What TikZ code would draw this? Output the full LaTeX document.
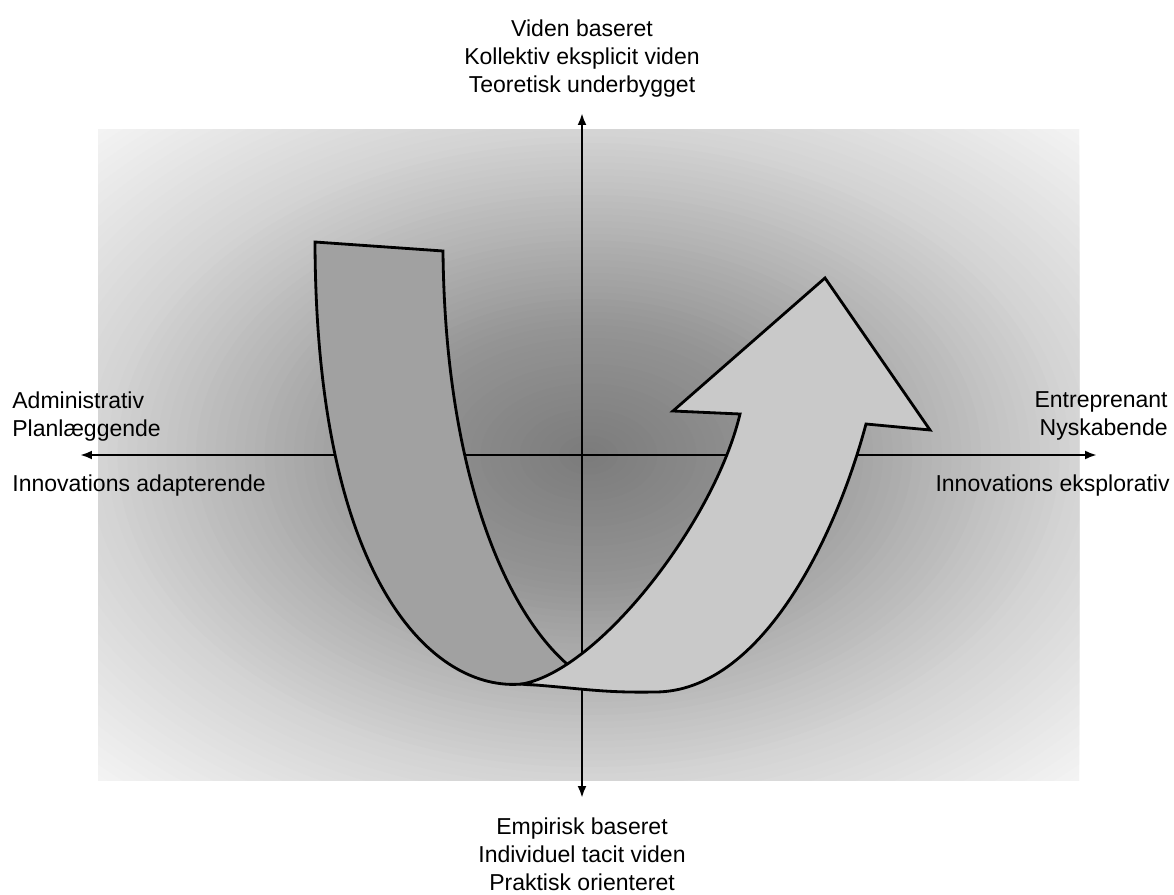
\documentclass[tikz,border=0pt]{standalone}
\usepackage{fontspec}
\setmainfont{Liberation Sans}
\usetikzlibrary{arrows.meta,positioning}
\definecolor{backband}{gray}{0.63}
\definecolor{frontband}{gray}{0.79}
\tikzset{
	axis/.style={line width=1.5pt,
		{Latex[length=0.24cm,width=0.18cm]}-{Latex[length=0.24cm,width=0.18cm]}},
	band/.style={draw, line width=1.6pt, line join=miter},
	pole/.style={font=\fontsize{13.1}{15.8}\selectfont, inner sep=0pt}
}

\begin{document}
\begin{tikzpicture}[x=0.02cm,y=-0.02cm]
	\useasboundingbox (0,0) rectangle (1174,895);
	% soft dark glow behind the axes
	\begin{scope}
		\clip (98,130) rectangle (1079,780);
		\fill[black!4] (98,130) rectangle (1079,780);
		\foreach \r in {72,71,...,1} {
			\pgfmathsetmacro\k{\r<=20 ? 52-0.5*\r : (\r<=50 ? 42-(\r-20)*25/30 : 17-(\r-50)*13/22)}
			\fill[black!\k] (588.5,455) ellipse ({\r*9.81} and {\r*6.5});
		}
	\end{scope}
	\coordinate (west) at (80,455);
	\coordinate (east) at (1097,455);
	\coordinate (north) at (582,113);
	\coordinate (south) at (582,798);
	\draw[axis] (west) -- (east);
	\draw[axis] (north) -- (south);
	% back of the band
	\draw[band, fill=backband] (315,242) -- (443,251)
		.. controls (445,470) and (505,615) .. (573,669)
		.. controls (555,682) and (540,687) .. (522,684)
		.. controls (435,692) and (316,585) .. (315,242) -- cycle;
	% front of the band, ending in the arrow head
	\draw[band, fill=frontband] (522,684)
		.. controls (600,670) and (715,520) .. (740,414)
		-- (673,411) -- (825,278) -- (930,430) -- (866,424)
		.. controls (835,540) and (760,692) .. (655,692)
		.. controls (600,693) and (580,688) .. (522,684) -- cycle;
	\node[pole, anchor=north, align=center] (knowledge) at (582,19.5)
		{Viden baseret\\Kollektiv eksplicit viden\\Teoretisk underbygget};
	\node[pole, anchor=north, align=center] (practice) at (582,817.5)
		{Empirisk baseret\\Individuel tacit viden\\Praktisk orienteret};
	\node[pole, anchor=north west, align=left] (admin) at (12,391.5)
		{Administrativ\\Planlæggende};
	\node[pole, anchor=base west] (adapt) at (12,491) {Innovations adapterende};
	\node[pole, anchor=north east, align=right] (entre) at (1168,391.5)
		{Entreprenant\\Nyskabende};
	\node[pole, anchor=base east] (explore) at (1170,491) {Innovations eksplorativ};
\end{tikzpicture}
\end{document}
